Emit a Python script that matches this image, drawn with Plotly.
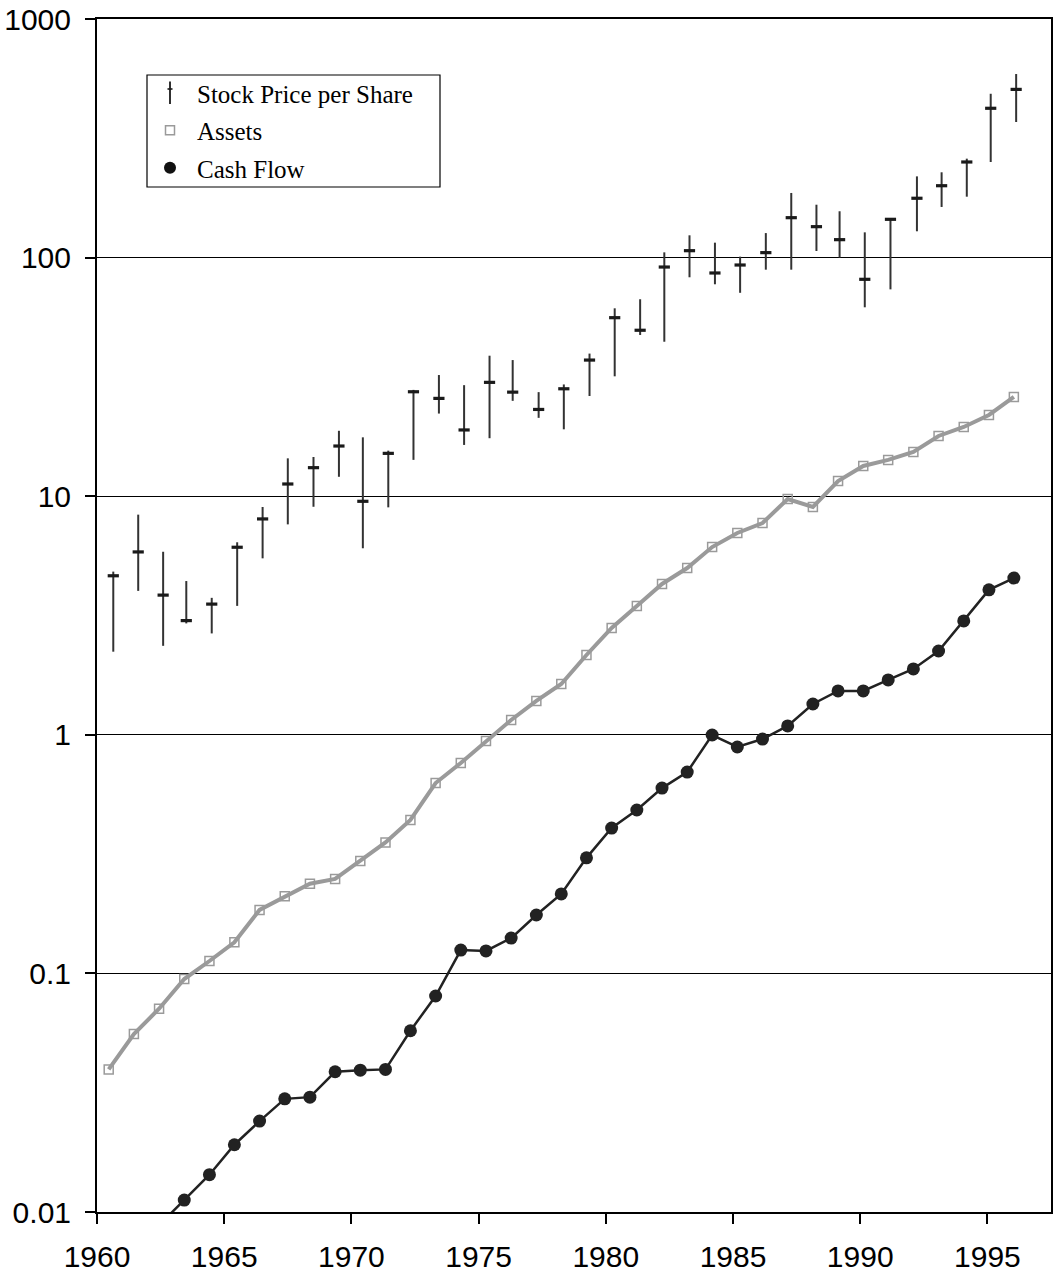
import plotly.graph_objects as go

# ---------------- data ----------------
period_x = [1960.46, 1961.45, 1962.44, 1963.43, 1964.42, 1965.40, 1966.39, 1967.38,
            1968.37, 1969.36, 1970.35, 1971.34, 1972.32, 1973.31, 1974.30, 1975.29,
            1976.28, 1977.27, 1978.25, 1979.24, 1980.23, 1981.22, 1982.21, 1983.20,
            1984.18, 1985.17, 1986.16, 1987.15, 1988.14, 1989.13, 1990.12, 1991.10,
            1992.09, 1993.08, 1994.07, 1995.06, 1996.04]

assets = [0.0396, 0.0557, 0.0711, 0.0947, 0.1127, 0.135, 0.1845, 0.2104, 0.2377, 0.2488,
          0.2958, 0.354, 0.4395, 0.628, 0.762, 0.942, 1.154, 1.387, 1.633, 2.16,
          2.805, 3.467, 4.287, 5.0, 6.12, 7.01, 7.72, 9.73, 9.01, 11.58,
          13.39, 14.19, 15.32, 17.88, 19.5, 21.9, 26.06]

cash_x = period_x[2:]  # cash flow series starts in 1962
cash_flow = [0.0088, 0.01122, 0.01433, 0.01914, 0.02404, 0.0298, 0.0303, 0.0387, 0.0393,
             0.0396, 0.0575, 0.0804, 0.1253, 0.1242, 0.1406, 0.1757, 0.2153, 0.305,
             0.4066, 0.484, 0.598, 0.698, 0.998, 0.889, 0.96, 1.089, 1.346, 1.527,
             1.527, 1.698, 1.888, 2.245, 3.0, 4.05, 4.54]

stock_x = [1960.64, 1961.62, 1962.60, 1963.51, 1964.51, 1965.51, 1966.51, 1967.50,
           1968.51, 1969.51, 1970.45, 1971.45, 1972.44, 1973.44, 1974.43, 1975.43,
           1976.34, 1977.36, 1978.35, 1979.36, 1980.35, 1981.35, 1982.30, 1983.29,
           1984.29, 1985.28, 1986.29, 1987.29, 1988.28, 1989.19, 1990.18, 1991.19,
           1992.23, 1993.20, 1994.19, 1995.13, 1996.13]
stock_close = [4.64, 5.84, 3.85, 3.01, 3.53, 6.11, 8.03, 11.25, 13.17, 16.23, 9.52, 15.12,
               27.4, 25.7, 18.95, 30.0, 27.3, 23.1, 28.2, 37.2, 56.0, 49.6, 91.3, 106.9,
               86.2, 93.1, 104.9, 147, 134.8, 118.9, 81.1, 144.7, 177.3, 200.1, 251.6,
               422.5, 507]
stock_high = [4.83, 8.37, 5.85, 4.41, 3.75, 6.41, 9.01, 14.41, 14.6, 18.8, 17.65, 15.52,
              27.9, 32.2, 29.2, 38.8, 37.2, 27.3, 29.4, 39.6, 61.3, 66.9, 105.2, 124,
              115.5, 100.9, 126.7, 186.6, 166.6, 156.4, 127.6, 144.7, 219, 227.8, 259.8,
              486, 588]
stock_low = [2.23, 4.01, 2.36, 2.93, 2.66, 3.47, 5.49, 7.62, 9.03, 12.06, 6.05, 8.98,
             14.2, 22.2, 16.4, 17.5, 25.1, 21.3, 19.07, 26.3, 31.8, 47.4, 44.4, 82.7,
             77.3, 71.2, 89.0, 89.0, 106.6, 99.9, 61.9, 73.6, 128.9, 163, 180, 251.6, 370]

y_tickvals = [0.01, 0.1, 1, 10, 100, 1000]
y_ticktext = ["0.01", "0.1", "1", "10", "100", "1000"]
x_tickvals = [1960, 1965, 1970, 1975, 1980, 1985, 1990, 1995]
x_ticktext = [str(v) for v in x_tickvals]

legend_names = ["Stock Price per Share", "Assets", "Cash Flow"]

# ---------------- figure ----------------
fig = go.Figure()

err_plus = [h - c for h, c in zip(stock_high, stock_close)]
err_minus = [c - l for c, l in zip(stock_close, stock_low)]

fig.add_trace(go.Scatter(
    x=stock_x, y=stock_close, mode="markers", showlegend=False,
    marker=dict(symbol="line-ew", size=8, color="#1a1a1a",
                line=dict(width=3.2, color="#1a1a1a")),
    error_y=dict(type="data", symmetric=False, array=err_plus, arrayminus=err_minus,
                 width=0, thickness=2, color="#333333"),
))

fig.add_trace(go.Scatter(
    x=period_x, y=assets, mode="lines+markers", showlegend=False,
    line=dict(color="#9a9a9a", width=4),
    marker=dict(symbol="square-open", size=9, color="#9a9a9a",
                line=dict(width=1.5, color="#9a9a9a")),
))

fig.add_trace(go.Scatter(
    x=cash_x, y=cash_flow, mode="lines+markers", showlegend=False,
    line=dict(color="#222222", width=2.5),
    marker=dict(symbol="circle", size=13, color="#222222"),
))

# legend-only entries
fig.add_trace(go.Scatter(
    x=[None], y=[None], mode="markers", name=legend_names[0], legendgroup="a",
    marker=dict(symbol="line-ns", size=17, color="#1a1a1a",
                line=dict(width=1.8, color="#1a1a1a")),
))
fig.add_trace(go.Scatter(
    x=[None], y=[None], mode="markers", name=legend_names[1], legendgroup="b",
    marker=dict(symbol="square-open", size=9, color="#9a9a9a",
                line=dict(width=1.5, color="#9a9a9a")),
))
fig.add_trace(go.Scatter(
    x=[None], y=[None], mode="markers", name=legend_names[2], legendgroup="c",
    marker=dict(symbol="circle", size=12, color="#111111"),
))

W, H = 1053, 1275
ML, MR, MT, MB = 97, 2, 19, 63
PW, PH = W - ML - MR, H - MT - MB


def px_x(p):
    return (p - ML) / PW


def px_y(p):
    return 1 - (p - MT) / PH


# legend frame
fig.add_shape(type="rect", xref="paper", yref="paper",
              x0=px_x(147), x1=px_x(440), y0=px_y(187), y1=px_y(75),
              line=dict(color="#000000", width=1.2), fillcolor="rgba(0,0,0,0)")
# short crossbar that turns the legend's vertical stroke into a dagger
fig.add_shape(type="line", xref="paper", yref="paper",
              x0=px_x(167.5), x1=px_x(172.5), y0=px_y(89), y1=px_y(89),
              line=dict(color="#1a1a1a", width=1.6))

fig.update_layout(
    width=W, height=H,
    margin=dict(l=ML, r=MR, t=MT, b=MB, pad=0, autoexpand=False),
    paper_bgcolor="white", plot_bgcolor="white",
    showlegend=True,
    legend=dict(
        x=px_x(143), y=px_y(70), xanchor="left", yanchor="top",
        bgcolor="rgba(0,0,0,0)", borderwidth=0,
        font=dict(family="Liberation Serif", size=25, color="#000000"),
        itemwidth=44, traceorder="grouped", tracegroupgap=2,
    ),
    font=dict(family="Liberation Sans, Arial", size=30, color="#000000"),
)

fig.update_xaxes(
    range=[1960, 1997.5], tickvals=x_tickvals, ticktext=x_ticktext,
    showgrid=False, zeroline=False, automargin=False,
    showline=True, linecolor="#000000", linewidth=2, mirror=True,
    ticks="outside", ticklen=10, tickwidth=1.5, tickcolor="#000000",
    ticklabelstandoff=7,
    tickfont=dict(family="Liberation Sans, Arial", size=30, color="#000000"),
)
fig.update_yaxes(
    type="log", range=[-2, 3], tickvals=y_tickvals, ticktext=y_ticktext,
    showgrid=True, gridcolor="#000000", gridwidth=1, zeroline=False, automargin=False,
    showline=True, linecolor="#000000", linewidth=2, mirror=True,
    ticks="outside", ticklen=10, tickwidth=1.5, tickcolor="#000000",
    ticklabelstandoff=8,
    tickfont=dict(family="Liberation Sans, Arial", size=30, color="#000000"),
)

fig.write_html("out.html")
